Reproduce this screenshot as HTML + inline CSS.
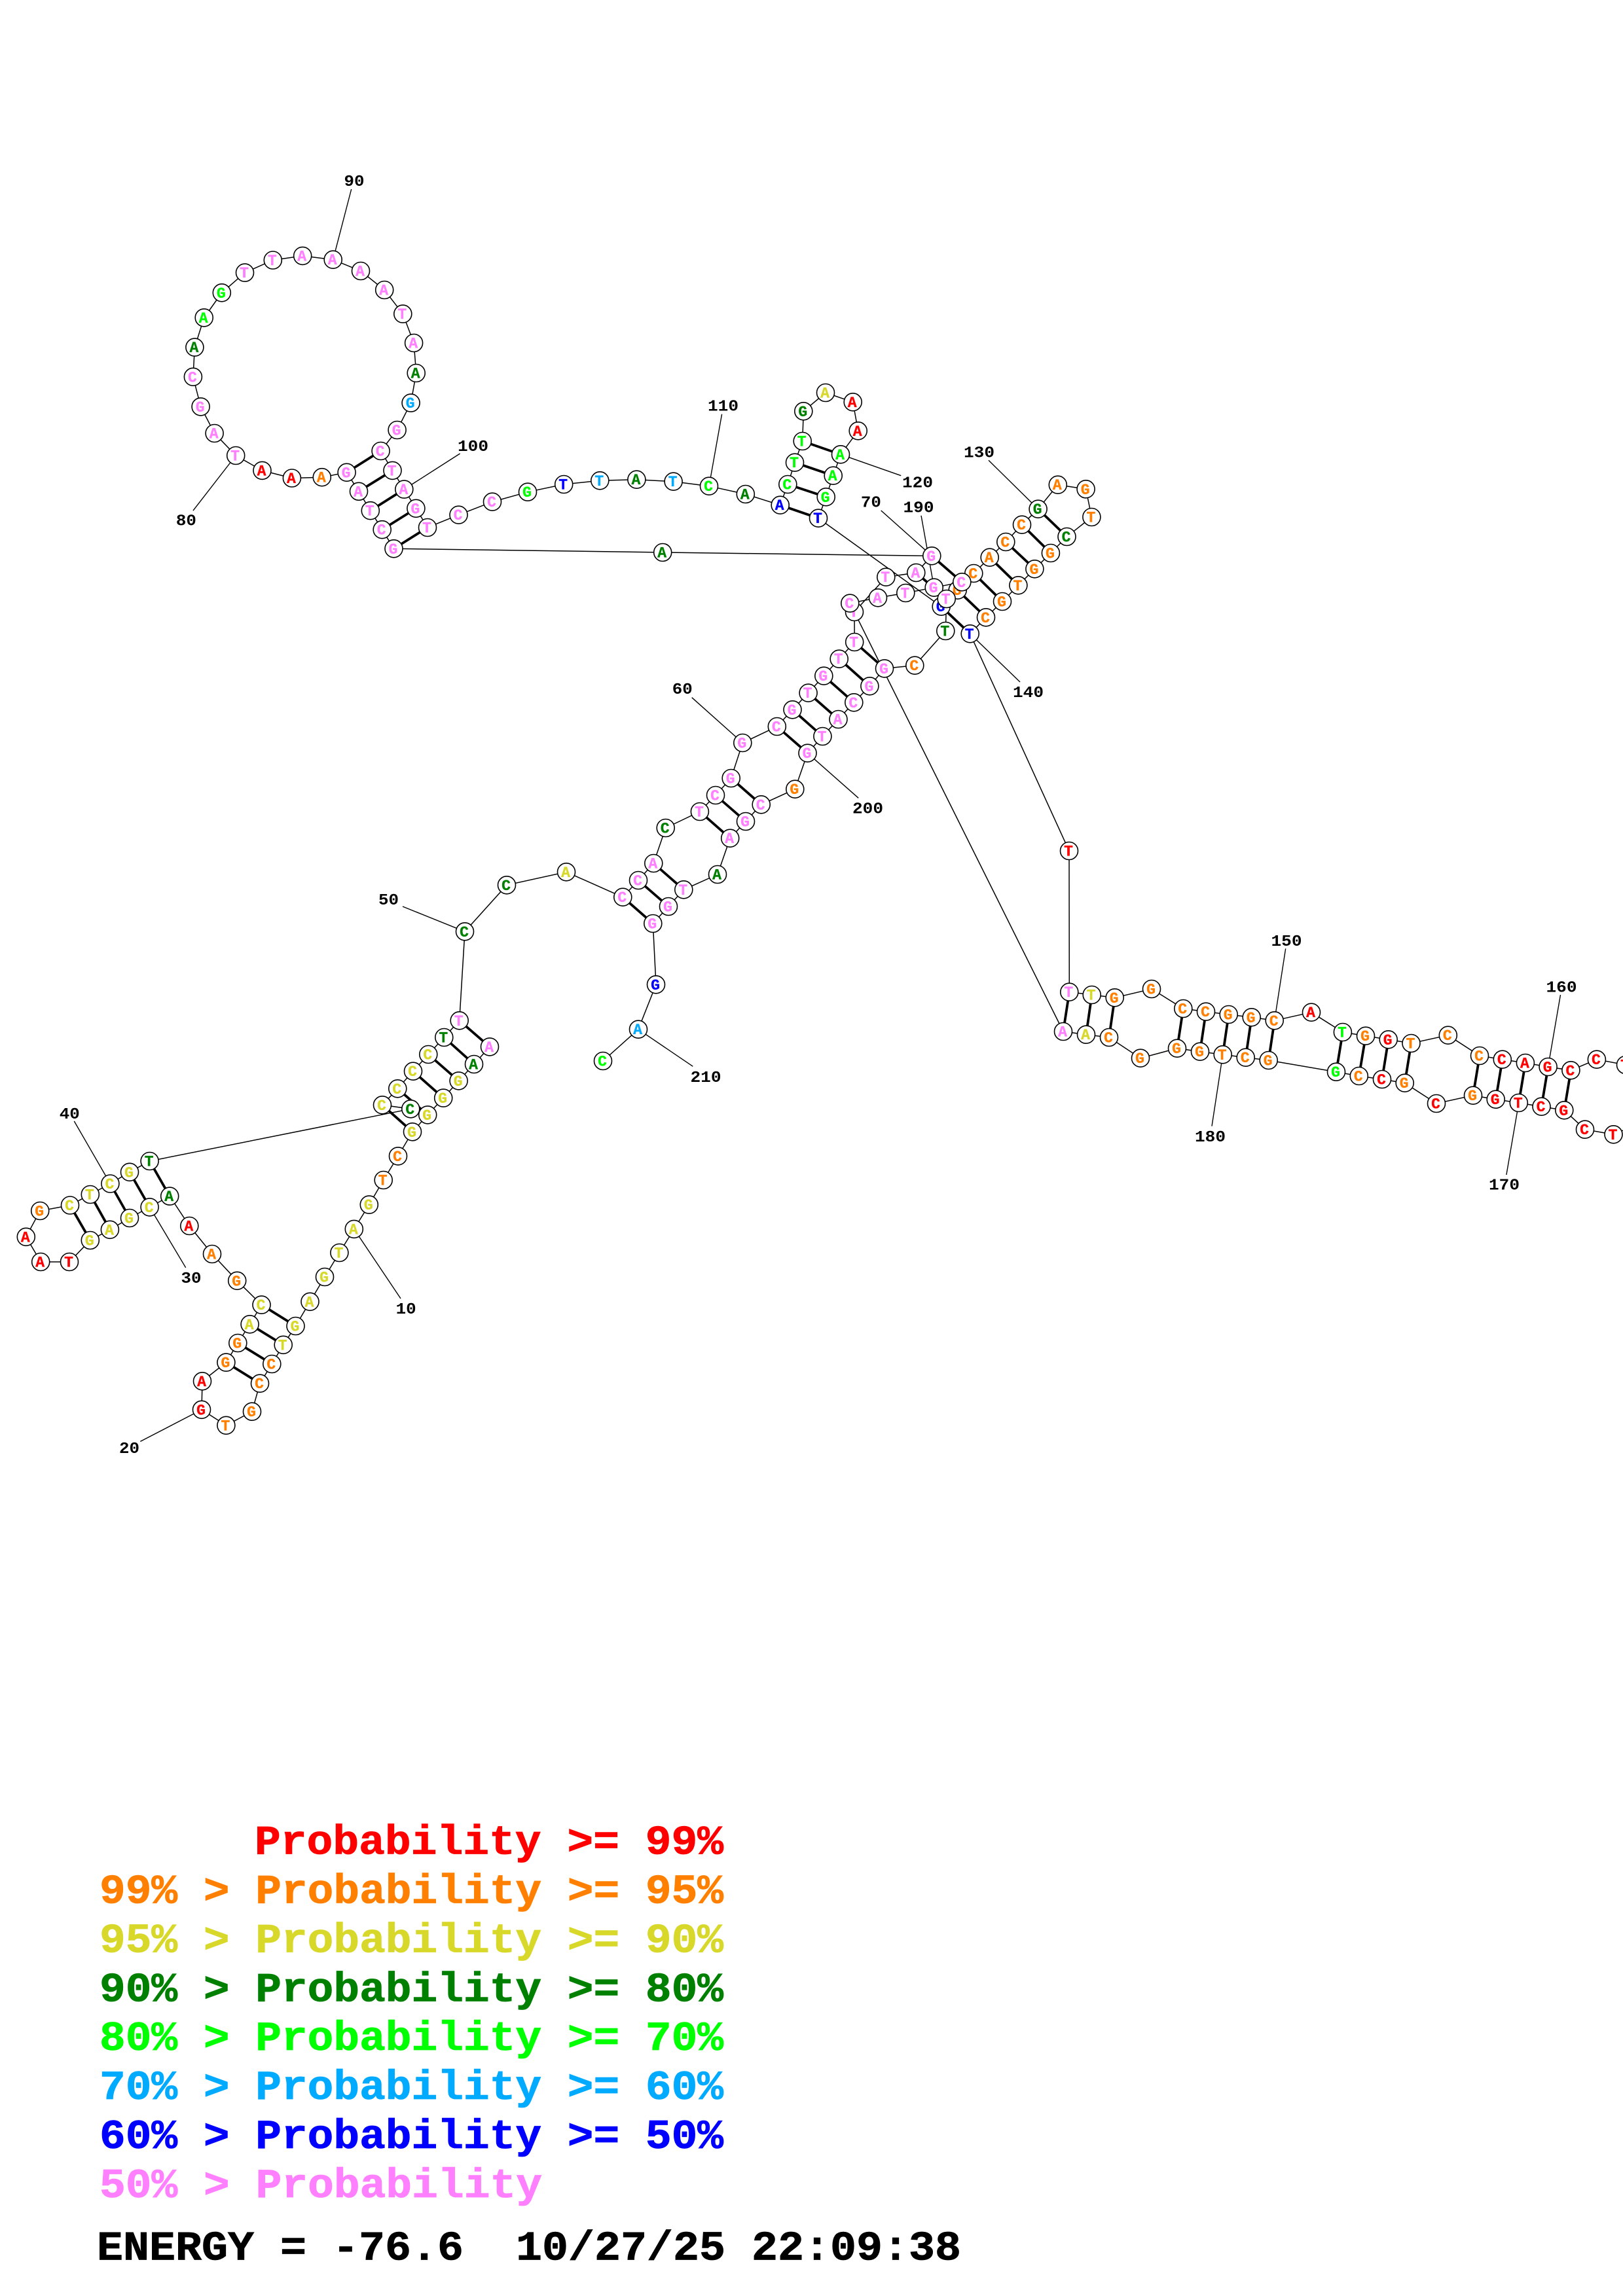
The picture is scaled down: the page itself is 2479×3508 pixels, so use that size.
<!DOCTYPE html>
<html><head><meta charset="utf-8"><title>RNA secondary structure</title>
<style>
html,body{margin:0;padding:0;background:#fff}
svg{display:block}
.n circle{r:13.5px;fill:#fff;stroke:#000;stroke-width:1.6}
.n text{font:bold 23px "Liberation Mono",monospace;text-anchor:middle;stroke-width:.35px}
.lb text{font:bold 24px "Liberation Mono",monospace;fill:#000}
.lg text{font:bold 63px "Liberation Mono",monospace;white-space:pre;stroke-width:.8px}
.p{fill:#ff80ff;stroke:#ff80ff}.d{fill:#008000;stroke:#008000}.y{fill:#d8d82a;stroke:#d8d82a}.o{fill:#ff8000;stroke:#ff8000}.r{fill:#ff0000;stroke:#ff0000}.g{fill:#00ff00;stroke:#00ff00}.c{fill:#00aaff;stroke:#00aaff}.b{fill:#0000ff;stroke:#0000ff}
</style></head><body>
<svg xmlns="http://www.w3.org/2000/svg" width="2479" height="3508" viewBox="0 0 2479 3508">
<rect width="2479" height="3508" fill="#fff"/>
<!-- backbone -->
<path fill="none" stroke="#000" stroke-width="1.5" d="M748 1599.4L724 1626L700.6 1651.4L677.2 1677.6L653.2 1703.4L630 1729.3L608 1766.4L585.7 1803L563.8 1840.6L540.8 1877.9L518.4 1914L496 1951L473.5 1988.8L451.5 2026L432.7 2054.8L415.3 2084L397 2113.7L385 2156.7L345.4 2177.8L308 2153.8L309 2110.3L345.4 2081.6L363.3 2052L381.6 2023.3L399.5 1993.6L362.2 1956.8L324 1916L289.3 1873L259.2 1827.6L228.6 1844.4L198 1861L167.9 1878.8L137.8 1895L106 1928L62.2 1928L39.8 1889.8L61.2 1850L107 1841.5L137.8 1825L168.4 1808.5L198 1790.8L228.6 1774L627.3 1694.3L584 1688.3L607.3 1663.3L631 1636.7L654.3 1611L678.3 1585L701.7 1559.3L710 1423.3L774 1352.3L865 1332.3L951.3 1370.7L975 1345L998.3 1319L1016.7 1265L1068.9 1240L1093 1215L1116.7 1189L1134.3 1135L1186.8 1110L1210.5 1084.3L1234.6 1058.7L1258.3 1032.7L1281.7 1006.7L1305.2 981L1305 935L1353.3 881.7L1399.3 875L1423.3 849.3L1012.2 844L601.5 838.3L583.7 809.2L565.8 780.2L548 750.8L529.6 721.8L491.8 729.2L445.9 730.5L400.5 718.9L360.2 696L327.6 662L306.6 621.4L294.9 575.8L297.4 530.6L311.7 485.4L338.8 447.3L374 416.6L416.8 397.5L462.2 390.9L508.7 396.7L551 414L587.2 443L615.3 479.6L632.1 524L635.7 570L627.6 615.6L606.6 657L581.6 689L599.5 718.9L617.3 747.6L635.4 776.8L653 806L700.5 786.7L752 766.7L806 751.7L861.2 740L916.3 734.3L972.4 732.7L1028.6 735.7L1083 742.7L1138.8 755L1191.7 771.7L1203.3 740L1214 706.7L1225.7 674L1227.3 628.3L1261 600L1302.7 614.3L1310.7 658.3L1284 694.3L1272.7 726.7L1261.7 759.3L1250 791.7L1437.7 926.7L1462.7 901.7L1487.3 876L1511.7 851.7L1536.3 828L1561 801.7L1585.6 777.7L1615.8 740.7L1658.6 747.3L1667.4 790L1629.5 820L1604.9 845L1580.4 869.3L1555.4 894.3L1531 919L1506 943.3L1481.7 968.3L1633 1300L1633.3 1515.7L1667.7 1520L1702.7 1524.3L1759 1511L1807.3 1541L1842 1545.7L1876.7 1550L1911.7 1554.3L1946.7 1559.3L2003 1546.7L2050.9 1577L2086 1582.7L2120.7 1588.3L2155.5 1594L2211.8 1581.7L2260 1613L2294.8 1618.7L2329.9 1624L2364.6 1630L2399.4 1635.3L2438.9 1618.7L2483 1627L2520 1640L2520 1710L2464.5 1733.3L2421 1725.7L2389.3 1696.3L2354.5 1690.7L2319.8 1685L2284.7 1679.7L2250 1673.7L2194 1686L2145.7 1654.7L2111 1649L2075.8 1644L2041 1637.7L1937.7 1620L1902.7 1615.7L1867.7 1611.3L1833 1606.7L1798 1601.7L1742 1616.7L1694 1585L1659 1580.7L1624 1576L1298.3 921.7L1341 913.3L1383.3 906L1426.7 897.7L1469.3 889.3L1445.7 915L1444.3 964L1397.3 1016.7L1351 1021.4L1328.4 1048.3L1304.3 1073.3L1280.5 1099L1256.4 1125L1233.5 1150.7L1214.3 1205.7L1162.7 1229.3L1139 1255L1115.2 1280.7L1096 1336L1044.3 1359.3L1021 1385L997.3 1411L1002 1504.3L975 1572.7L921 1621"/>
<!-- base pairs -->
<path fill="none" stroke="#000" stroke-width="3.8" d="M748 1599.4L701.7 1559.3M724 1626L678.3 1585M700.6 1651.4L654.3 1611M677.2 1677.6L631 1636.7M653.2 1703.4L607.3 1663.3M630 1729.3L584 1688.3M451.5 2026L399.5 1993.6M432.7 2054.8L381.6 2023.3M415.3 2084L363.3 2052M397 2113.7L345.4 2081.6M259.2 1827.6L228.6 1774M228.6 1844.4L198 1790.8M198 1861L168.4 1808.5M167.9 1878.8L137.8 1825M137.8 1895L107 1841.5M951.3 1370.7L997.3 1411M975 1345L1021 1385M998.3 1319L1044.3 1359.3M1068.9 1240L1115.2 1280.7M1093 1215L1139 1255M1116.7 1189L1162.7 1229.3M1186.8 1110L1233.5 1150.7M1210.5 1084.3L1256.4 1125M1234.6 1058.7L1280.5 1099M1258.3 1032.7L1304.3 1073.3M1281.7 1006.7L1328.4 1048.3M1305.2 981L1351 1021.4M1399.3 875L1445.7 915M1423.3 849.3L1469.3 889.3M601.5 838.3L653 806M583.7 809.2L635.4 776.8M565.8 780.2L617.3 747.6M548 750.8L599.5 718.9M529.6 721.8L581.6 689M1191.7 771.7L1250 791.7M1203.3 740L1261.7 759.3M1214 706.7L1272.7 726.7M1225.7 674L1284 694.3M1437.7 926.7L1481.7 968.3M1462.7 901.7L1506 943.3M1487.3 876L1531 919M1511.7 851.7L1555.4 894.3M1536.3 828L1580.4 869.3M1561 801.7L1604.9 845M1585.6 777.7L1629.5 820M1633.3 1515.7L1624 1576M1667.7 1520L1659 1580.7M1702.7 1524.3L1694 1585M1807.3 1541L1798 1601.7M1842 1545.7L1833 1606.7M1876.7 1550L1867.7 1611.3M1911.7 1554.3L1902.7 1615.7M1946.7 1559.3L1937.7 1620M2050.9 1577L2041 1637.7M2086 1582.7L2075.8 1644M2120.7 1588.3L2111 1649M2155.5 1594L2145.7 1654.7M2260 1613L2250 1673.7M2294.8 1618.7L2284.7 1679.7M2329.9 1624L2319.8 1685M2364.6 1630L2354.5 1690.7M2399.4 1635.3L2389.3 1696.3"/>
<!-- label ticks -->
<path fill="none" stroke="#000" stroke-width="1.4" d="M540.8 1877.9L612 1984M308 2153.8L214.3 2202.4M228.6 1844.4L283.7 1936.8M168.4 1808.5L113.3 1713M710 1423.3L615 1385M1134.3 1135L1056.7 1065.7M1423.3 849.3L1345.7 780M360.2 696L294.9 780.2M508.7 396.7L536.7 289M617.3 747.6L702.6 693M1083 742.7L1102.6 632.7M1284 694.3L1376.2 726.7M1585.6 777.7L1510 703.3M1481.7 968.3L1558 1042M1946.7 1559.3L1963.7 1449.3M2364.6 1630L2383.5 1520M2319.8 1685L2300.9 1795M1867.7 1611.3L1851 1720.7M1426.7 897.7L1407 787.7M1233.5 1150.7L1311.2 1219.3M975 1572.7L1058.3 1629.3"/>
<g class="lb">
<text x="604.6" y="2007" textLength="31" lengthAdjust="spacingAndGlyphs">10</text>
<text x="182" y="2220" textLength="31" lengthAdjust="spacingAndGlyphs">20</text>
<text x="276.5" y="1960" textLength="31" lengthAdjust="spacingAndGlyphs">30</text>
<text x="90.8" y="1709" textLength="31" lengthAdjust="spacingAndGlyphs">40</text>
<text x="578" y="1382" textLength="31" lengthAdjust="spacingAndGlyphs">50</text>
<text x="1026.8" y="1060" textLength="31" lengthAdjust="spacingAndGlyphs">60</text>
<text x="1314.9" y="774.3" textLength="31" lengthAdjust="spacingAndGlyphs">70</text>
<text x="268.9" y="802.6" textLength="31" lengthAdjust="spacingAndGlyphs">80</text>
<text x="525.5" y="284" textLength="31" lengthAdjust="spacingAndGlyphs">90</text>
<text x="699" y="689" textLength="47" lengthAdjust="spacingAndGlyphs">100</text>
<text x="1081" y="627.7" textLength="47" lengthAdjust="spacingAndGlyphs">110</text>
<text x="1378" y="744.3" textLength="47" lengthAdjust="spacingAndGlyphs">120</text>
<text x="1472" y="698.7" textLength="47" lengthAdjust="spacingAndGlyphs">130</text>
<text x="1547" y="1065" textLength="47" lengthAdjust="spacingAndGlyphs">140</text>
<text x="1941.5" y="1445" textLength="47" lengthAdjust="spacingAndGlyphs">150</text>
<text x="2361.5" y="1515.7" textLength="47" lengthAdjust="spacingAndGlyphs">160</text>
<text x="2274" y="1817.7" textLength="47" lengthAdjust="spacingAndGlyphs">170</text>
<text x="1825" y="1744" textLength="47" lengthAdjust="spacingAndGlyphs">180</text>
<text x="1379.5" y="782.3" textLength="47" lengthAdjust="spacingAndGlyphs">190</text>
<text x="1302" y="1242.3" textLength="47" lengthAdjust="spacingAndGlyphs">200</text>
<text x="1054.5" y="1653" textLength="47" lengthAdjust="spacingAndGlyphs">210</text>
</g>
<g class="n">
<circle cx="748" cy="1599.4"/><text x="747" y="1606.9" class="p">A</text>
<circle cx="724" cy="1626"/><text x="723" y="1633.5" class="d">A</text>
<circle cx="700.6" cy="1651.4"/><text x="699.6" y="1658.9" class="y">G</text>
<circle cx="677.2" cy="1677.6"/><text x="676.2" y="1685.1" class="y">G</text>
<circle cx="653.2" cy="1703.4"/><text x="652.2" y="1710.9" class="y">G</text>
<circle cx="630" cy="1729.3"/><text x="629" y="1736.8" class="y">G</text>
<circle cx="608" cy="1766.4"/><text x="607" y="1773.9" class="o">C</text>
<circle cx="585.7" cy="1803"/><text x="584.7" y="1810.5" class="o">T</text>
<circle cx="563.8" cy="1840.6"/><text x="562.8" y="1848.1" class="y">G</text>
<circle cx="540.8" cy="1877.9"/><text x="539.8" y="1885.4" class="y">A</text>
<circle cx="518.4" cy="1914"/><text x="517.4" y="1921.5" class="y">T</text>
<circle cx="496" cy="1951"/><text x="495" y="1958.5" class="y">G</text>
<circle cx="473.5" cy="1988.8"/><text x="472.5" y="1996.3" class="y">A</text>
<circle cx="451.5" cy="2026"/><text x="450.5" y="2033.5" class="y">G</text>
<circle cx="432.7" cy="2054.8"/><text x="431.7" y="2062.3" class="y">T</text>
<circle cx="415.3" cy="2084"/><text x="414.3" y="2091.5" class="o">C</text>
<circle cx="397" cy="2113.7"/><text x="396" y="2121.2" class="o">C</text>
<circle cx="385" cy="2156.7"/><text x="384" y="2164.2" class="o">G</text>
<circle cx="345.4" cy="2177.8"/><text x="344.4" y="2185.3" class="o">T</text>
<circle cx="308" cy="2153.8"/><text x="307" y="2161.3" class="r">G</text>
<circle cx="309" cy="2110.3"/><text x="308" y="2117.8" class="r">A</text>
<circle cx="345.4" cy="2081.6"/><text x="344.4" y="2089.1" class="o">G</text>
<circle cx="363.3" cy="2052"/><text x="362.3" y="2059.5" class="o">G</text>
<circle cx="381.6" cy="2023.3"/><text x="380.6" y="2030.8" class="y">A</text>
<circle cx="399.5" cy="1993.6"/><text x="398.5" y="2001.1" class="y">C</text>
<circle cx="362.2" cy="1956.8"/><text x="361.2" y="1964.3" class="o">G</text>
<circle cx="324" cy="1916"/><text x="323" y="1923.5" class="o">A</text>
<circle cx="289.3" cy="1873"/><text x="288.3" y="1880.5" class="r">A</text>
<circle cx="259.2" cy="1827.6"/><text x="258.2" y="1835.1" class="d">A</text>
<circle cx="228.6" cy="1844.4"/><text x="227.6" y="1851.9" class="y">C</text>
<circle cx="198" cy="1861"/><text x="197" y="1868.5" class="y">G</text>
<circle cx="167.9" cy="1878.8"/><text x="166.9" y="1886.3" class="y">A</text>
<circle cx="137.8" cy="1895"/><text x="136.8" y="1902.5" class="y">G</text>
<circle cx="106" cy="1928"/><text x="105" y="1935.5" class="r">T</text>
<circle cx="62.2" cy="1928"/><text x="61.2" y="1935.5" class="r">A</text>
<circle cx="39.8" cy="1889.8"/><text x="38.8" y="1897.3" class="r">A</text>
<circle cx="61.2" cy="1850"/><text x="60.2" y="1857.5" class="o">G</text>
<circle cx="107" cy="1841.5"/><text x="106" y="1849" class="y">C</text>
<circle cx="137.8" cy="1825"/><text x="136.8" y="1832.5" class="y">T</text>
<circle cx="168.4" cy="1808.5"/><text x="167.4" y="1816" class="y">C</text>
<circle cx="198" cy="1790.8"/><text x="197" y="1798.3" class="y">G</text>
<circle cx="228.6" cy="1774"/><text x="227.6" y="1781.5" class="d">T</text>
<circle cx="627.3" cy="1694.3"/><text x="626.3" y="1701.8" class="d">C</text>
<circle cx="584" cy="1688.3"/><text x="583" y="1695.8" class="y">C</text>
<circle cx="607.3" cy="1663.3"/><text x="606.3" y="1670.8" class="y">C</text>
<circle cx="631" cy="1636.7"/><text x="630" y="1644.2" class="y">C</text>
<circle cx="654.3" cy="1611"/><text x="653.3" y="1618.5" class="y">C</text>
<circle cx="678.3" cy="1585"/><text x="677.3" y="1592.5" class="d">T</text>
<circle cx="701.7" cy="1559.3"/><text x="700.7" y="1566.8" class="p">T</text>
<circle cx="710" cy="1423.3"/><text x="709" y="1430.8" class="d">C</text>
<circle cx="774" cy="1352.3"/><text x="773" y="1359.8" class="d">C</text>
<circle cx="865" cy="1332.3"/><text x="864" y="1339.8" class="y">A</text>
<circle cx="951.3" cy="1370.7"/><text x="950.3" y="1378.2" class="p">C</text>
<circle cx="975" cy="1345"/><text x="974" y="1352.5" class="p">C</text>
<circle cx="998.3" cy="1319"/><text x="997.3" y="1326.5" class="p">A</text>
<circle cx="1016.7" cy="1265"/><text x="1015.7" y="1272.5" class="d">C</text>
<circle cx="1068.9" cy="1240"/><text x="1067.9" y="1247.5" class="p">T</text>
<circle cx="1093" cy="1215"/><text x="1092" y="1222.5" class="p">C</text>
<circle cx="1116.7" cy="1189"/><text x="1115.7" y="1196.5" class="p">G</text>
<circle cx="1134.3" cy="1135"/><text x="1133.3" y="1142.5" class="p">G</text>
<circle cx="1186.8" cy="1110"/><text x="1185.8" y="1117.5" class="p">C</text>
<circle cx="1210.5" cy="1084.3"/><text x="1209.5" y="1091.8" class="p">G</text>
<circle cx="1234.6" cy="1058.7"/><text x="1233.6" y="1066.2" class="p">T</text>
<circle cx="1258.3" cy="1032.7"/><text x="1257.3" y="1040.2" class="p">G</text>
<circle cx="1281.7" cy="1006.7"/><text x="1280.7" y="1014.2" class="p">T</text>
<circle cx="1305.2" cy="981"/><text x="1304.2" y="988.5" class="p">T</text>
<circle cx="1305" cy="935"/><text x="1304" y="942.5" class="p">T</text>
<circle cx="1353.3" cy="881.7"/><text x="1352.3" y="889.2" class="p">T</text>
<circle cx="1399.3" cy="875"/><text x="1398.3" y="882.5" class="p">A</text>
<circle cx="1423.3" cy="849.3"/><text x="1422.3" y="856.8" class="p">G</text>
<circle cx="1012.2" cy="844"/><text x="1011.2" y="851.5" class="d">A</text>
<circle cx="601.5" cy="838.3"/><text x="600.5" y="845.8" class="p">G</text>
<circle cx="583.7" cy="809.2"/><text x="582.7" y="816.7" class="p">C</text>
<circle cx="565.8" cy="780.2"/><text x="564.8" y="787.7" class="p">T</text>
<circle cx="548" cy="750.8"/><text x="547" y="758.3" class="p">A</text>
<circle cx="529.6" cy="721.8"/><text x="528.6" y="729.3" class="p">G</text>
<circle cx="491.8" cy="729.2"/><text x="490.8" y="736.7" class="o">A</text>
<circle cx="445.9" cy="730.5"/><text x="444.9" y="738" class="r">A</text>
<circle cx="400.5" cy="718.9"/><text x="399.5" y="726.4" class="r">A</text>
<circle cx="360.2" cy="696"/><text x="359.2" y="703.5" class="p">T</text>
<circle cx="327.6" cy="662"/><text x="326.6" y="669.5" class="p">A</text>
<circle cx="306.6" cy="621.4"/><text x="305.6" y="628.9" class="p">G</text>
<circle cx="294.9" cy="575.8"/><text x="293.9" y="583.3" class="p">C</text>
<circle cx="297.4" cy="530.6"/><text x="296.4" y="538.1" class="d">A</text>
<circle cx="311.7" cy="485.4"/><text x="310.7" y="492.9" class="g">A</text>
<circle cx="338.8" cy="447.3"/><text x="337.8" y="454.8" class="g">G</text>
<circle cx="374" cy="416.6"/><text x="373" y="424.1" class="p">T</text>
<circle cx="416.8" cy="397.5"/><text x="415.8" y="405" class="p">T</text>
<circle cx="462.2" cy="390.9"/><text x="461.2" y="398.4" class="p">A</text>
<circle cx="508.7" cy="396.7"/><text x="507.7" y="404.2" class="p">A</text>
<circle cx="551" cy="414"/><text x="550" y="421.5" class="p">A</text>
<circle cx="587.2" cy="443"/><text x="586.2" y="450.5" class="p">A</text>
<circle cx="615.3" cy="479.6"/><text x="614.3" y="487.1" class="p">T</text>
<circle cx="632.1" cy="524"/><text x="631.1" y="531.5" class="p">A</text>
<circle cx="635.7" cy="570"/><text x="634.7" y="577.5" class="d">A</text>
<circle cx="627.6" cy="615.6"/><text x="626.6" y="623.1" class="c">G</text>
<circle cx="606.6" cy="657"/><text x="605.6" y="664.5" class="p">G</text>
<circle cx="581.6" cy="689"/><text x="580.6" y="696.5" class="p">C</text>
<circle cx="599.5" cy="718.9"/><text x="598.5" y="726.4" class="p">T</text>
<circle cx="617.3" cy="747.6"/><text x="616.3" y="755.1" class="p">A</text>
<circle cx="635.4" cy="776.8"/><text x="634.4" y="784.3" class="p">G</text>
<circle cx="653" cy="806"/><text x="652" y="813.5" class="p">T</text>
<circle cx="700.5" cy="786.7"/><text x="699.5" y="794.2" class="p">C</text>
<circle cx="752" cy="766.7"/><text x="751" y="774.2" class="p">C</text>
<circle cx="806" cy="751.7"/><text x="805" y="759.2" class="g">G</text>
<circle cx="861.2" cy="740"/><text x="860.2" y="747.5" class="b">T</text>
<circle cx="916.3" cy="734.3"/><text x="915.3" y="741.8" class="c">T</text>
<circle cx="972.4" cy="732.7"/><text x="971.4" y="740.2" class="d">A</text>
<circle cx="1028.6" cy="735.7"/><text x="1027.6" y="743.2" class="c">T</text>
<circle cx="1083" cy="742.7"/><text x="1082" y="750.2" class="g">C</text>
<circle cx="1138.8" cy="755"/><text x="1137.8" y="762.5" class="d">A</text>
<circle cx="1191.7" cy="771.7"/><text x="1190.7" y="779.2" class="b">A</text>
<circle cx="1203.3" cy="740"/><text x="1202.3" y="747.5" class="g">C</text>
<circle cx="1214" cy="706.7"/><text x="1213" y="714.2" class="g">T</text>
<circle cx="1225.7" cy="674"/><text x="1224.7" y="681.5" class="g">T</text>
<circle cx="1227.3" cy="628.3"/><text x="1226.3" y="635.8" class="d">G</text>
<circle cx="1261" cy="600"/><text x="1260" y="607.5" class="y">A</text>
<circle cx="1302.7" cy="614.3"/><text x="1301.7" y="621.8" class="r">A</text>
<circle cx="1310.7" cy="658.3"/><text x="1309.7" y="665.8" class="r">A</text>
<circle cx="1284" cy="694.3"/><text x="1283" y="701.8" class="g">A</text>
<circle cx="1272.7" cy="726.7"/><text x="1271.7" y="734.2" class="g">A</text>
<circle cx="1261.7" cy="759.3"/><text x="1260.7" y="766.8" class="g">G</text>
<circle cx="1250" cy="791.7"/><text x="1249" y="799.2" class="b">T</text>
<circle cx="1437.7" cy="926.7"/><text x="1436.7" y="934.2" class="b">G</text>
<circle cx="1462.7" cy="901.7"/><text x="1461.7" y="909.2" class="o">G</text>
<circle cx="1487.3" cy="876"/><text x="1486.3" y="883.5" class="o">C</text>
<circle cx="1511.7" cy="851.7"/><text x="1510.7" y="859.2" class="o">A</text>
<circle cx="1536.3" cy="828"/><text x="1535.3" y="835.5" class="o">C</text>
<circle cx="1561" cy="801.7"/><text x="1560" y="809.2" class="o">C</text>
<circle cx="1585.6" cy="777.7"/><text x="1584.6" y="785.2" class="d">G</text>
<circle cx="1615.8" cy="740.7"/><text x="1614.8" y="748.2" class="o">A</text>
<circle cx="1658.6" cy="747.3"/><text x="1657.6" y="754.8" class="o">G</text>
<circle cx="1667.4" cy="790"/><text x="1666.4" y="797.5" class="o">T</text>
<circle cx="1629.5" cy="820"/><text x="1628.5" y="827.5" class="d">C</text>
<circle cx="1604.9" cy="845"/><text x="1603.9" y="852.5" class="o">G</text>
<circle cx="1580.4" cy="869.3"/><text x="1579.4" y="876.8" class="o">G</text>
<circle cx="1555.4" cy="894.3"/><text x="1554.4" y="901.8" class="o">T</text>
<circle cx="1531" cy="919"/><text x="1530" y="926.5" class="o">G</text>
<circle cx="1506" cy="943.3"/><text x="1505" y="950.8" class="o">C</text>
<circle cx="1481.7" cy="968.3"/><text x="1480.7" y="975.8" class="b">T</text>
<circle cx="1633" cy="1300"/><text x="1632" y="1307.5" class="r">T</text>
<circle cx="1633.3" cy="1515.7"/><text x="1632.3" y="1523.2" class="p">T</text>
<circle cx="1667.7" cy="1520"/><text x="1666.7" y="1527.5" class="y">T</text>
<circle cx="1702.7" cy="1524.3"/><text x="1701.7" y="1531.8" class="o">G</text>
<circle cx="1759" cy="1511"/><text x="1758" y="1518.5" class="o">G</text>
<circle cx="1807.3" cy="1541"/><text x="1806.3" y="1548.5" class="o">C</text>
<circle cx="1842" cy="1545.7"/><text x="1841" y="1553.2" class="o">C</text>
<circle cx="1876.7" cy="1550"/><text x="1875.7" y="1557.5" class="o">G</text>
<circle cx="1911.7" cy="1554.3"/><text x="1910.7" y="1561.8" class="o">G</text>
<circle cx="1946.7" cy="1559.3"/><text x="1945.7" y="1566.8" class="o">C</text>
<circle cx="2003" cy="1546.7"/><text x="2002" y="1554.2" class="r">A</text>
<circle cx="2050.9" cy="1577"/><text x="2049.9" y="1584.5" class="g">T</text>
<circle cx="2086" cy="1582.7"/><text x="2085" y="1590.2" class="o">G</text>
<circle cx="2120.7" cy="1588.3"/><text x="2119.7" y="1595.8" class="r">G</text>
<circle cx="2155.5" cy="1594"/><text x="2154.5" y="1601.5" class="o">T</text>
<circle cx="2211.8" cy="1581.7"/><text x="2210.8" y="1589.2" class="o">C</text>
<circle cx="2260" cy="1613"/><text x="2259" y="1620.5" class="o">C</text>
<circle cx="2294.8" cy="1618.7"/><text x="2293.8" y="1626.2" class="r">C</text>
<circle cx="2329.9" cy="1624"/><text x="2328.9" y="1631.5" class="r">A</text>
<circle cx="2364.6" cy="1630"/><text x="2363.6" y="1637.5" class="r">G</text>
<circle cx="2399.4" cy="1635.3"/><text x="2398.4" y="1642.8" class="r">C</text>
<circle cx="2438.9" cy="1618.7"/><text x="2437.9" y="1626.2" class="r">C</text>
<circle cx="2483" cy="1627"/><text x="2482" y="1634.5" class="r">T</text>
<circle cx="2464.5" cy="1733.3"/><text x="2463.5" y="1740.8" class="r">T</text>
<circle cx="2421" cy="1725.7"/><text x="2420" y="1733.2" class="r">C</text>
<circle cx="2389.3" cy="1696.3"/><text x="2388.3" y="1703.8" class="r">G</text>
<circle cx="2354.5" cy="1690.7"/><text x="2353.5" y="1698.2" class="r">C</text>
<circle cx="2319.8" cy="1685"/><text x="2318.8" y="1692.5" class="r">T</text>
<circle cx="2284.7" cy="1679.7"/><text x="2283.7" y="1687.2" class="r">G</text>
<circle cx="2250" cy="1673.7"/><text x="2249" y="1681.2" class="o">G</text>
<circle cx="2194" cy="1686"/><text x="2193" y="1693.5" class="r">C</text>
<circle cx="2145.7" cy="1654.7"/><text x="2144.7" y="1662.2" class="o">G</text>
<circle cx="2111" cy="1649"/><text x="2110" y="1656.5" class="r">C</text>
<circle cx="2075.8" cy="1644"/><text x="2074.8" y="1651.5" class="o">C</text>
<circle cx="2041" cy="1637.7"/><text x="2040" y="1645.2" class="g">G</text>
<circle cx="1937.7" cy="1620"/><text x="1936.7" y="1627.5" class="o">G</text>
<circle cx="1902.7" cy="1615.7"/><text x="1901.7" y="1623.2" class="o">C</text>
<circle cx="1867.7" cy="1611.3"/><text x="1866.7" y="1618.8" class="o">T</text>
<circle cx="1833" cy="1606.7"/><text x="1832" y="1614.2" class="o">G</text>
<circle cx="1798" cy="1601.7"/><text x="1797" y="1609.2" class="o">G</text>
<circle cx="1742" cy="1616.7"/><text x="1741" y="1624.2" class="o">G</text>
<circle cx="1694" cy="1585"/><text x="1693" y="1592.5" class="o">C</text>
<circle cx="1659" cy="1580.7"/><text x="1658" y="1588.2" class="y">A</text>
<circle cx="1624" cy="1576"/><text x="1623" y="1583.5" class="p">A</text>
<circle cx="1298.3" cy="921.7"/><text x="1297.3" y="929.2" class="p">C</text>
<circle cx="1341" cy="913.3"/><text x="1340" y="920.8" class="p">A</text>
<circle cx="1383.3" cy="906"/><text x="1382.3" y="913.5" class="p">T</text>
<circle cx="1426.7" cy="897.7"/><text x="1425.7" y="905.2" class="p">G</text>
<circle cx="1469.3" cy="889.3"/><text x="1468.3" y="896.8" class="p">C</text>
<circle cx="1445.7" cy="915"/><text x="1444.7" y="922.5" class="p">T</text>
<circle cx="1444.3" cy="964"/><text x="1443.3" y="971.5" class="d">T</text>
<circle cx="1397.3" cy="1016.7"/><text x="1396.3" y="1024.2" class="o">C</text>
<circle cx="1351" cy="1021.4"/><text x="1350" y="1028.9" class="p">G</text>
<circle cx="1328.4" cy="1048.3"/><text x="1327.4" y="1055.8" class="p">G</text>
<circle cx="1304.3" cy="1073.3"/><text x="1303.3" y="1080.8" class="p">C</text>
<circle cx="1280.5" cy="1099"/><text x="1279.5" y="1106.5" class="p">A</text>
<circle cx="1256.4" cy="1125"/><text x="1255.4" y="1132.5" class="p">T</text>
<circle cx="1233.5" cy="1150.7"/><text x="1232.5" y="1158.2" class="p">G</text>
<circle cx="1214.3" cy="1205.7"/><text x="1213.3" y="1213.2" class="o">G</text>
<circle cx="1162.7" cy="1229.3"/><text x="1161.7" y="1236.8" class="p">C</text>
<circle cx="1139" cy="1255"/><text x="1138" y="1262.5" class="p">G</text>
<circle cx="1115.2" cy="1280.7"/><text x="1114.2" y="1288.2" class="p">A</text>
<circle cx="1096" cy="1336"/><text x="1095" y="1343.5" class="d">A</text>
<circle cx="1044.3" cy="1359.3"/><text x="1043.3" y="1366.8" class="p">T</text>
<circle cx="1021" cy="1385"/><text x="1020" y="1392.5" class="p">G</text>
<circle cx="997.3" cy="1411"/><text x="996.3" y="1418.5" class="p">G</text>
<circle cx="1002" cy="1504.3"/><text x="1001" y="1511.8" class="b">G</text>
<circle cx="975" cy="1572.7"/><text x="974" y="1580.2" class="c">A</text>
<circle cx="921" cy="1621"/><text x="920" y="1628.5" class="g">C</text>
</g>
<g class="lg">
<text x="389" y="2832.6" class="r" textLength="716" lengthAdjust="spacingAndGlyphs">Probability &gt;= 99%</text>
<text x="152" y="2907.5" class="o" textLength="953" lengthAdjust="spacingAndGlyphs">99% &gt; Probability &gt;= 95%</text>
<text x="152" y="2982.4" class="y" textLength="953" lengthAdjust="spacingAndGlyphs">95% &gt; Probability &gt;= 90%</text>
<text x="152" y="3057.3" class="d" textLength="953" lengthAdjust="spacingAndGlyphs">90% &gt; Probability &gt;= 80%</text>
<text x="152" y="3132.2" class="g" textLength="953" lengthAdjust="spacingAndGlyphs">80% &gt; Probability &gt;= 70%</text>
<text x="152" y="3207.1" class="c" textLength="953" lengthAdjust="spacingAndGlyphs">70% &gt; Probability &gt;= 60%</text>
<text x="152" y="3282" class="b" textLength="953" lengthAdjust="spacingAndGlyphs">60% &gt; Probability &gt;= 50%</text>
<text x="152" y="3357" class="p" textLength="676" lengthAdjust="spacingAndGlyphs">50% &gt; Probability</text>
<text x="148" y="3452.5" fill="#000" stroke="#000" textLength="1320" lengthAdjust="spacingAndGlyphs">ENERGY = -76.6  10/27/25 22:09:38</text>
</g>
</svg>
</body></html>
